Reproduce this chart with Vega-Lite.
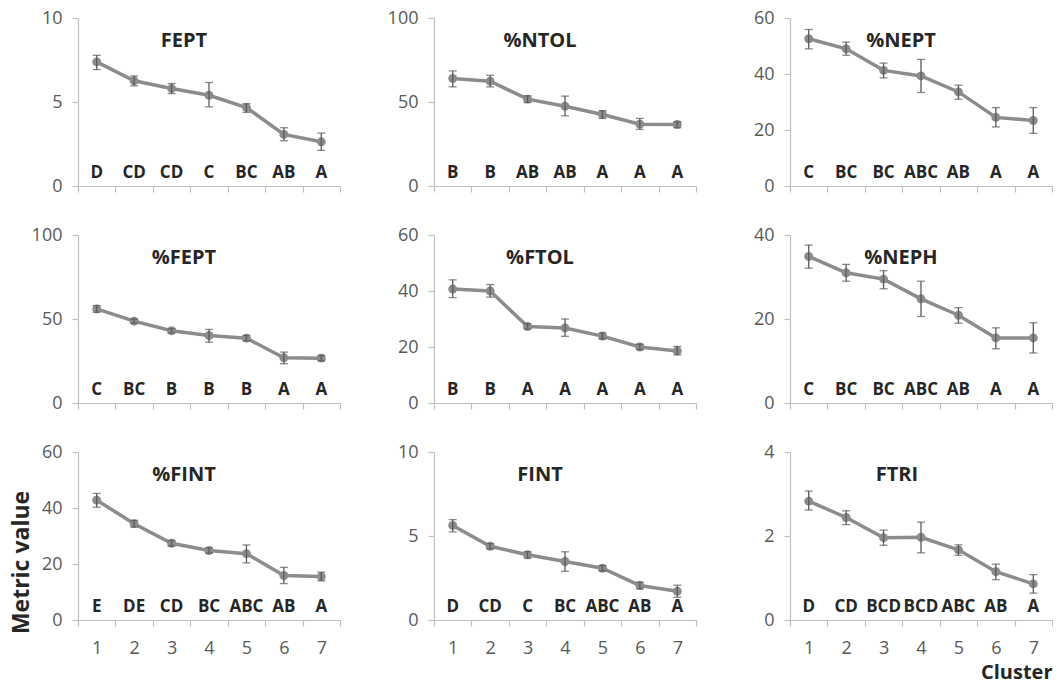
{
  "$schema": "https://vega.github.io/schema/vega-lite/v6.json",
  "background": "white",
  "padding": {"left": 10, "top": 9, "right": 0, "bottom": 0},
  "config": {
    "view": {"stroke": null},
    "font": "Open Sans",
    "axis": {"grid": false, "domainColor": "#bfbfbf", "tickColor": "#bfbfbf", "tickSize": 6, "labelColor": "#595959", "labelFontSize": 18, "labelFont": "Open Sans", "domainWidth": 1.2, "tickWidth": 1.2},
    "axisX": {"tickBand": "extent", "labelAngle": 0, "labelPadding": 13},
    "axisY": {"labelPadding": 10}
  },
  "datasets": {
    "d": [
      {"metric": "FEPT", "cluster": 1, "mean": 7.39, "lo": 6.93, "hi": 7.78, "letter": "D"},
      {"metric": "FEPT", "cluster": 2, "mean": 6.26, "lo": 5.96, "hi": 6.55, "letter": "CD"},
      {"metric": "FEPT", "cluster": 3, "mean": 5.8, "lo": 5.5, "hi": 6.1, "letter": "CD"},
      {"metric": "FEPT", "cluster": 4, "mean": 5.4, "lo": 4.71, "hi": 6.16, "letter": "C"},
      {"metric": "FEPT", "cluster": 5, "mean": 4.67, "lo": 4.38, "hi": 4.9, "letter": "BC"},
      {"metric": "FEPT", "cluster": 6, "mean": 3.07, "lo": 2.69, "hi": 3.47, "letter": "AB"},
      {"metric": "FEPT", "cluster": 7, "mean": 2.63, "lo": 2.12, "hi": 3.15, "letter": "A"},
      {"metric": "%NTOL", "cluster": 1, "mean": 64, "lo": 59, "hi": 68.5, "letter": "B"},
      {"metric": "%NTOL", "cluster": 2, "mean": 62.4, "lo": 59, "hi": 65.9, "letter": "B"},
      {"metric": "%NTOL", "cluster": 3, "mean": 51.7, "lo": 49.7, "hi": 53.7, "letter": "AB"},
      {"metric": "%NTOL", "cluster": 4, "mean": 47.5, "lo": 41.8, "hi": 53.5, "letter": "AB"},
      {"metric": "%NTOL", "cluster": 5, "mean": 42.6, "lo": 40.2, "hi": 44.8, "letter": "A"},
      {"metric": "%NTOL", "cluster": 6, "mean": 36.8, "lo": 33.7, "hi": 40.2, "letter": "A"},
      {"metric": "%NTOL", "cluster": 7, "mean": 36.6, "lo": 34.7, "hi": 38.2, "letter": "A"},
      {"metric": "%NEPT", "cluster": 1, "mean": 52.6, "lo": 49, "hi": 55.9, "letter": "C"},
      {"metric": "%NEPT", "cluster": 2, "mean": 49, "lo": 46.7, "hi": 51.4, "letter": "BC"},
      {"metric": "%NEPT", "cluster": 3, "mean": 41.3, "lo": 38.6, "hi": 43.9, "letter": "BC"},
      {"metric": "%NEPT", "cluster": 4, "mean": 39.3, "lo": 33.4, "hi": 45.2, "letter": "ABC"},
      {"metric": "%NEPT", "cluster": 5, "mean": 33.6, "lo": 31, "hi": 36, "letter": "AB"},
      {"metric": "%NEPT", "cluster": 6, "mean": 24.5, "lo": 21.1, "hi": 28, "letter": "A"},
      {"metric": "%NEPT", "cluster": 7, "mean": 23.4, "lo": 18.8, "hi": 28, "letter": "A"},
      {"metric": "%FEPT", "cluster": 1, "mean": 56, "lo": 54, "hi": 58, "letter": "C"},
      {"metric": "%FEPT", "cluster": 2, "mean": 48.7, "lo": 47.5, "hi": 50, "letter": "BC"},
      {"metric": "%FEPT", "cluster": 3, "mean": 43, "lo": 41.8, "hi": 44.2, "letter": "B"},
      {"metric": "%FEPT", "cluster": 4, "mean": 40.2, "lo": 36.2, "hi": 43.8, "letter": "B"},
      {"metric": "%FEPT", "cluster": 5, "mean": 38.6, "lo": 37, "hi": 40.2, "letter": "B"},
      {"metric": "%FEPT", "cluster": 6, "mean": 26.9, "lo": 23.4, "hi": 30.3, "letter": "A"},
      {"metric": "%FEPT", "cluster": 7, "mean": 26.7, "lo": 25.1, "hi": 28.3, "letter": "A"},
      {"metric": "%FTOL", "cluster": 1, "mean": 40.7, "lo": 37.6, "hi": 44, "letter": "B"},
      {"metric": "%FTOL", "cluster": 2, "mean": 40, "lo": 37.8, "hi": 42.3, "letter": "B"},
      {"metric": "%FTOL", "cluster": 3, "mean": 27.3, "lo": 26.4, "hi": 28.3, "letter": "A"},
      {"metric": "%FTOL", "cluster": 4, "mean": 26.8, "lo": 23.8, "hi": 30, "letter": "A"},
      {"metric": "%FTOL", "cluster": 5, "mean": 23.9, "lo": 22.9, "hi": 25, "letter": "A"},
      {"metric": "%FTOL", "cluster": 6, "mean": 20, "lo": 19.1, "hi": 21, "letter": "A"},
      {"metric": "%FTOL", "cluster": 7, "mean": 18.6, "lo": 17.2, "hi": 20.2, "letter": "A"},
      {"metric": "%NEPH", "cluster": 1, "mean": 34.9, "lo": 32.1, "hi": 37.6, "letter": "C"},
      {"metric": "%NEPH", "cluster": 2, "mean": 31, "lo": 29, "hi": 33, "letter": "BC"},
      {"metric": "%NEPH", "cluster": 3, "mean": 29.5, "lo": 27.2, "hi": 31.5, "letter": "BC"},
      {"metric": "%NEPH", "cluster": 4, "mean": 24.8, "lo": 20.6, "hi": 29, "letter": "ABC"},
      {"metric": "%NEPH", "cluster": 5, "mean": 20.9, "lo": 19, "hi": 22.7, "letter": "AB"},
      {"metric": "%NEPH", "cluster": 6, "mean": 15.5, "lo": 12.9, "hi": 17.9, "letter": "A"},
      {"metric": "%NEPH", "cluster": 7, "mean": 15.5, "lo": 11.9, "hi": 19.1, "letter": "A"},
      {"metric": "%FINT", "cluster": 1, "mean": 42.8, "lo": 40.3, "hi": 45.2, "letter": "E"},
      {"metric": "%FINT", "cluster": 2, "mean": 34.4, "lo": 33.2, "hi": 35.6, "letter": "DE"},
      {"metric": "%FINT", "cluster": 3, "mean": 27.4, "lo": 26.4, "hi": 28.4, "letter": "CD"},
      {"metric": "%FINT", "cluster": 4, "mean": 24.8, "lo": 23.9, "hi": 25.8, "letter": "BC"},
      {"metric": "%FINT", "cluster": 5, "mean": 23.7, "lo": 20.4, "hi": 26.8, "letter": "ABC"},
      {"metric": "%FINT", "cluster": 6, "mean": 15.9, "lo": 13, "hi": 18.8, "letter": "AB"},
      {"metric": "%FINT", "cluster": 7, "mean": 15.5, "lo": 14, "hi": 17.1, "letter": "A"},
      {"metric": "FINT", "cluster": 1, "mean": 5.63, "lo": 5.25, "hi": 5.98, "letter": "D"},
      {"metric": "FINT", "cluster": 2, "mean": 4.39, "lo": 4.23, "hi": 4.55, "letter": "CD"},
      {"metric": "FINT", "cluster": 3, "mean": 3.88, "lo": 3.68, "hi": 4.07, "letter": "C"},
      {"metric": "FINT", "cluster": 4, "mean": 3.48, "lo": 2.9, "hi": 4.06, "letter": "BC"},
      {"metric": "FINT", "cluster": 5, "mean": 3.08, "lo": 2.92, "hi": 3.24, "letter": "ABC"},
      {"metric": "FINT", "cluster": 6, "mean": 2.05, "lo": 1.85, "hi": 2.25, "letter": "AB"},
      {"metric": "FINT", "cluster": 7, "mean": 1.71, "lo": 1.35, "hi": 2.07, "letter": "A"},
      {"metric": "FTRI", "cluster": 1, "mean": 2.83, "lo": 2.62, "hi": 3.07, "letter": "D"},
      {"metric": "FTRI", "cluster": 2, "mean": 2.44, "lo": 2.27, "hi": 2.6, "letter": "CD"},
      {"metric": "FTRI", "cluster": 3, "mean": 1.96, "lo": 1.78, "hi": 2.14, "letter": "BCD"},
      {"metric": "FTRI", "cluster": 4, "mean": 1.97, "lo": 1.6, "hi": 2.33, "letter": "BCD"},
      {"metric": "FTRI", "cluster": 5, "mean": 1.67, "lo": 1.54, "hi": 1.79, "letter": "ABC"},
      {"metric": "FTRI", "cluster": 6, "mean": 1.15, "lo": 0.96, "hi": 1.33, "letter": "AB"},
      {"metric": "FTRI", "cluster": 7, "mean": 0.86, "lo": 0.64, "hi": 1.08, "letter": "A"}
    ]
  },
  "data": {"name": "d"},
  "columns": 3,
  "bounds": "flush",
  "align": "all",
  "spacing": {"row": 49, "column": 94},
  "concat": [
    {
      "width": 262, "height": 168,
      "title": {"text": "FEPT", "anchor": "middle", "frame": "group", "dx": -25, "offset": -52, "baseline": "middle", "fontSize": 20, "fontWeight": "bold", "color": "#262626", "font": "Open Sans"},
      "transform": [{"filter": "datum.metric === 'FEPT'"}],
      "encoding": {
        "x": {"field": "cluster", "type": "ordinal", "scale": {"paddingInner": 0, "paddingOuter": 0}, "axis": {"title": null, "labels": false}},
        "y": {"field": "mean", "type": "quantitative", "title": null, "scale": {"domain": [0, 10]}, "axis": {"title": null, "values": [0, 5, 10]}}
      },
      "layer": [
        {"mark": {"type": "line", "color": "#8c8c8c", "strokeWidth": 3.5}, "encoding": {}},
        {"mark": {"type": "circle", "size": 80, "color": "#8c8c8c", "opacity": 1}, "encoding": {}},
        {"mark": {"type": "rule", "color": "#595959", "strokeWidth": 1.3}, "encoding": {"y": {"field": "lo", "type": "quantitative", "title": null}, "y2": {"field": "hi"}}},
        {"mark": {"type": "tick", "color": "#595959", "thickness": 1.3, "size": 8}, "encoding": {"y": {"field": "lo", "type": "quantitative", "title": null}}},
        {"mark": {"type": "tick", "color": "#595959", "thickness": 1.3, "size": 8}, "encoding": {"y": {"field": "hi", "type": "quantitative", "title": null}}},
        {"mark": {"type": "text", "dy": -13, "fontSize": 17, "fontWeight": "bold", "color": "#262626", "font": "Open Sans"}, "encoding": {"y": {"datum": 0, "title": null}, "text": {"field": "letter"}}}
      ]
    },
    {
      "width": 262, "height": 168,
      "title": {"text": "%NTOL", "anchor": "middle", "frame": "group", "dx": -25, "offset": -52, "baseline": "middle", "fontSize": 20, "fontWeight": "bold", "color": "#262626", "font": "Open Sans"},
      "transform": [{"filter": "datum.metric === '%NTOL'"}],
      "encoding": {
        "x": {"field": "cluster", "type": "ordinal", "scale": {"paddingInner": 0, "paddingOuter": 0}, "axis": {"title": null, "labels": false}},
        "y": {"field": "mean", "type": "quantitative", "title": null, "scale": {"domain": [0, 100]}, "axis": {"title": null, "values": [0, 50, 100]}}
      },
      "layer": [
        {"mark": {"type": "line", "color": "#8c8c8c", "strokeWidth": 3.5}, "encoding": {}},
        {"mark": {"type": "circle", "size": 80, "color": "#8c8c8c", "opacity": 1}, "encoding": {}},
        {"mark": {"type": "rule", "color": "#595959", "strokeWidth": 1.3}, "encoding": {"y": {"field": "lo", "type": "quantitative", "title": null}, "y2": {"field": "hi"}}},
        {"mark": {"type": "tick", "color": "#595959", "thickness": 1.3, "size": 8}, "encoding": {"y": {"field": "lo", "type": "quantitative", "title": null}}},
        {"mark": {"type": "tick", "color": "#595959", "thickness": 1.3, "size": 8}, "encoding": {"y": {"field": "hi", "type": "quantitative", "title": null}}},
        {"mark": {"type": "text", "dy": -13, "fontSize": 17, "fontWeight": "bold", "color": "#262626", "font": "Open Sans"}, "encoding": {"y": {"datum": 0, "title": null}, "text": {"field": "letter"}}}
      ]
    },
    {
      "width": 262, "height": 168,
      "title": {"text": "%NEPT", "anchor": "middle", "frame": "group", "dx": -20, "offset": -52, "baseline": "middle", "fontSize": 20, "fontWeight": "bold", "color": "#262626", "font": "Open Sans"},
      "transform": [{"filter": "datum.metric === '%NEPT'"}],
      "encoding": {
        "x": {"field": "cluster", "type": "ordinal", "scale": {"paddingInner": 0, "paddingOuter": 0}, "axis": {"title": null, "labels": false}},
        "y": {"field": "mean", "type": "quantitative", "title": null, "scale": {"domain": [0, 60]}, "axis": {"title": null, "values": [0, 20, 40, 60]}}
      },
      "layer": [
        {"mark": {"type": "line", "color": "#8c8c8c", "strokeWidth": 3.5}, "encoding": {}},
        {"mark": {"type": "circle", "size": 80, "color": "#8c8c8c", "opacity": 1}, "encoding": {}},
        {"mark": {"type": "rule", "color": "#595959", "strokeWidth": 1.3}, "encoding": {"y": {"field": "lo", "type": "quantitative", "title": null}, "y2": {"field": "hi"}}},
        {"mark": {"type": "tick", "color": "#595959", "thickness": 1.3, "size": 8}, "encoding": {"y": {"field": "lo", "type": "quantitative", "title": null}}},
        {"mark": {"type": "tick", "color": "#595959", "thickness": 1.3, "size": 8}, "encoding": {"y": {"field": "hi", "type": "quantitative", "title": null}}},
        {"mark": {"type": "text", "dy": -13, "fontSize": 17, "fontWeight": "bold", "color": "#262626", "font": "Open Sans"}, "encoding": {"y": {"datum": 0, "title": null}, "text": {"field": "letter"}}}
      ]
    },
    {
      "width": 262, "height": 168,
      "title": {"text": "%FEPT", "anchor": "middle", "frame": "group", "dx": -25, "offset": -52, "baseline": "middle", "fontSize": 20, "fontWeight": "bold", "color": "#262626", "font": "Open Sans"},
      "transform": [{"filter": "datum.metric === '%FEPT'"}],
      "encoding": {
        "x": {"field": "cluster", "type": "ordinal", "scale": {"paddingInner": 0, "paddingOuter": 0}, "axis": {"title": null, "labels": false}},
        "y": {"field": "mean", "type": "quantitative", "title": null, "scale": {"domain": [0, 100]}, "axis": {"title": null, "values": [0, 50, 100]}}
      },
      "layer": [
        {"mark": {"type": "line", "color": "#8c8c8c", "strokeWidth": 3.5}, "encoding": {}},
        {"mark": {"type": "circle", "size": 80, "color": "#8c8c8c", "opacity": 1}, "encoding": {}},
        {"mark": {"type": "rule", "color": "#595959", "strokeWidth": 1.3}, "encoding": {"y": {"field": "lo", "type": "quantitative", "title": null}, "y2": {"field": "hi"}}},
        {"mark": {"type": "tick", "color": "#595959", "thickness": 1.3, "size": 8}, "encoding": {"y": {"field": "lo", "type": "quantitative", "title": null}}},
        {"mark": {"type": "tick", "color": "#595959", "thickness": 1.3, "size": 8}, "encoding": {"y": {"field": "hi", "type": "quantitative", "title": null}}},
        {"mark": {"type": "text", "dy": -13, "fontSize": 17, "fontWeight": "bold", "color": "#262626", "font": "Open Sans"}, "encoding": {"y": {"datum": 0, "title": null}, "text": {"field": "letter"}}}
      ]
    },
    {
      "width": 262, "height": 168,
      "title": {"text": "%FTOL", "anchor": "middle", "frame": "group", "dx": -25, "offset": -52, "baseline": "middle", "fontSize": 20, "fontWeight": "bold", "color": "#262626", "font": "Open Sans"},
      "transform": [{"filter": "datum.metric === '%FTOL'"}],
      "encoding": {
        "x": {"field": "cluster", "type": "ordinal", "scale": {"paddingInner": 0, "paddingOuter": 0}, "axis": {"title": null, "labels": false}},
        "y": {"field": "mean", "type": "quantitative", "title": null, "scale": {"domain": [0, 60]}, "axis": {"title": null, "values": [0, 20, 40, 60]}}
      },
      "layer": [
        {"mark": {"type": "line", "color": "#8c8c8c", "strokeWidth": 3.5}, "encoding": {}},
        {"mark": {"type": "circle", "size": 80, "color": "#8c8c8c", "opacity": 1}, "encoding": {}},
        {"mark": {"type": "rule", "color": "#595959", "strokeWidth": 1.3}, "encoding": {"y": {"field": "lo", "type": "quantitative", "title": null}, "y2": {"field": "hi"}}},
        {"mark": {"type": "tick", "color": "#595959", "thickness": 1.3, "size": 8}, "encoding": {"y": {"field": "lo", "type": "quantitative", "title": null}}},
        {"mark": {"type": "tick", "color": "#595959", "thickness": 1.3, "size": 8}, "encoding": {"y": {"field": "hi", "type": "quantitative", "title": null}}},
        {"mark": {"type": "text", "dy": -13, "fontSize": 17, "fontWeight": "bold", "color": "#262626", "font": "Open Sans"}, "encoding": {"y": {"datum": 0, "title": null}, "text": {"field": "letter"}}}
      ]
    },
    {
      "width": 262, "height": 168,
      "title": {"text": "%NEPH", "anchor": "middle", "frame": "group", "dx": -20, "offset": -52, "baseline": "middle", "fontSize": 20, "fontWeight": "bold", "color": "#262626", "font": "Open Sans"},
      "transform": [{"filter": "datum.metric === '%NEPH'"}],
      "encoding": {
        "x": {"field": "cluster", "type": "ordinal", "scale": {"paddingInner": 0, "paddingOuter": 0}, "axis": {"title": null, "labels": false}},
        "y": {"field": "mean", "type": "quantitative", "title": null, "scale": {"domain": [0, 40]}, "axis": {"title": null, "values": [0, 20, 40]}}
      },
      "layer": [
        {"mark": {"type": "line", "color": "#8c8c8c", "strokeWidth": 3.5}, "encoding": {}},
        {"mark": {"type": "circle", "size": 80, "color": "#8c8c8c", "opacity": 1}, "encoding": {}},
        {"mark": {"type": "rule", "color": "#595959", "strokeWidth": 1.3}, "encoding": {"y": {"field": "lo", "type": "quantitative", "title": null}, "y2": {"field": "hi"}}},
        {"mark": {"type": "tick", "color": "#595959", "thickness": 1.3, "size": 8}, "encoding": {"y": {"field": "lo", "type": "quantitative", "title": null}}},
        {"mark": {"type": "tick", "color": "#595959", "thickness": 1.3, "size": 8}, "encoding": {"y": {"field": "hi", "type": "quantitative", "title": null}}},
        {"mark": {"type": "text", "dy": -13, "fontSize": 17, "fontWeight": "bold", "color": "#262626", "font": "Open Sans"}, "encoding": {"y": {"datum": 0, "title": null}, "text": {"field": "letter"}}}
      ]
    },
    {
      "width": 262, "height": 168,
      "title": {"text": "%FINT", "anchor": "middle", "frame": "group", "dx": -25, "offset": -52, "baseline": "middle", "fontSize": 20, "fontWeight": "bold", "color": "#262626", "font": "Open Sans"},
      "transform": [{"filter": "datum.metric === '%FINT'"}],
      "encoding": {
        "x": {"field": "cluster", "type": "ordinal", "scale": {"paddingInner": 0, "paddingOuter": 0}, "axis": {"title": null}},
        "y": {"field": "mean", "type": "quantitative", "title": "Metric value", "scale": {"domain": [0, 60]}, "axis": {"title": "Metric value", "values": [0, 20, 40, 60], "titleFontSize": 23, "titleFontWeight": "bold", "titleColor": "#262626", "titleFont": "Open Sans", "titlePadding": 8, "titleY": 110}}
      },
      "layer": [
        {"mark": {"type": "line", "color": "#8c8c8c", "strokeWidth": 3.5}, "encoding": {}},
        {"mark": {"type": "circle", "size": 80, "color": "#8c8c8c", "opacity": 1}, "encoding": {}},
        {"mark": {"type": "rule", "color": "#595959", "strokeWidth": 1.3}, "encoding": {"y": {"field": "lo", "type": "quantitative", "title": "Metric value"}, "y2": {"field": "hi"}}},
        {"mark": {"type": "tick", "color": "#595959", "thickness": 1.3, "size": 8}, "encoding": {"y": {"field": "lo", "type": "quantitative", "title": "Metric value"}}},
        {"mark": {"type": "tick", "color": "#595959", "thickness": 1.3, "size": 8}, "encoding": {"y": {"field": "hi", "type": "quantitative", "title": "Metric value"}}},
        {"mark": {"type": "text", "dy": -13, "fontSize": 17, "fontWeight": "bold", "color": "#262626", "font": "Open Sans"}, "encoding": {"y": {"datum": 0, "title": "Metric value"}, "text": {"field": "letter"}}}
      ]
    },
    {
      "width": 262, "height": 168,
      "title": {"text": "FINT", "anchor": "middle", "frame": "group", "dx": -25, "offset": -52, "baseline": "middle", "fontSize": 20, "fontWeight": "bold", "color": "#262626", "font": "Open Sans"},
      "transform": [{"filter": "datum.metric === 'FINT'"}],
      "encoding": {
        "x": {"field": "cluster", "type": "ordinal", "scale": {"paddingInner": 0, "paddingOuter": 0}, "axis": {"title": null}},
        "y": {"field": "mean", "type": "quantitative", "title": null, "scale": {"domain": [0, 10]}, "axis": {"title": null, "values": [0, 5, 10]}}
      },
      "layer": [
        {"mark": {"type": "line", "color": "#8c8c8c", "strokeWidth": 3.5}, "encoding": {}},
        {"mark": {"type": "circle", "size": 80, "color": "#8c8c8c", "opacity": 1}, "encoding": {}},
        {"mark": {"type": "rule", "color": "#595959", "strokeWidth": 1.3}, "encoding": {"y": {"field": "lo", "type": "quantitative", "title": null}, "y2": {"field": "hi"}}},
        {"mark": {"type": "tick", "color": "#595959", "thickness": 1.3, "size": 8}, "encoding": {"y": {"field": "lo", "type": "quantitative", "title": null}}},
        {"mark": {"type": "tick", "color": "#595959", "thickness": 1.3, "size": 8}, "encoding": {"y": {"field": "hi", "type": "quantitative", "title": null}}},
        {"mark": {"type": "text", "dy": -13, "fontSize": 17, "fontWeight": "bold", "color": "#262626", "font": "Open Sans"}, "encoding": {"y": {"datum": 0, "title": null}, "text": {"field": "letter"}}}
      ]
    },
    {
      "width": 262, "height": 168,
      "title": {"text": "FTRI", "anchor": "middle", "frame": "group", "dx": -24, "offset": -52, "baseline": "middle", "fontSize": 20, "fontWeight": "bold", "color": "#262626", "font": "Open Sans"},
      "transform": [{"filter": "datum.metric === 'FTRI'"}],
      "encoding": {
        "x": {"field": "cluster", "type": "ordinal", "title": "Cluster", "scale": {"paddingInner": 0, "paddingOuter": 0}, "axis": {"title": "Cluster", "titleAnchor": "end", "titleFontSize": 20, "titleFontWeight": "bold", "titleColor": "#262626", "titleFont": "Open Sans", "titlePadding": 5}},
        "y": {"field": "mean", "type": "quantitative", "title": null, "scale": {"domain": [0, 4]}, "axis": {"title": null, "values": [0, 2, 4]}}
      },
      "layer": [
        {"mark": {"type": "line", "color": "#8c8c8c", "strokeWidth": 3.5}, "encoding": {}},
        {"mark": {"type": "circle", "size": 80, "color": "#8c8c8c", "opacity": 1}, "encoding": {}},
        {"mark": {"type": "rule", "color": "#595959", "strokeWidth": 1.3}, "encoding": {"y": {"field": "lo", "type": "quantitative", "title": null}, "y2": {"field": "hi"}}},
        {"mark": {"type": "tick", "color": "#595959", "thickness": 1.3, "size": 8}, "encoding": {"y": {"field": "lo", "type": "quantitative", "title": null}}},
        {"mark": {"type": "tick", "color": "#595959", "thickness": 1.3, "size": 8}, "encoding": {"y": {"field": "hi", "type": "quantitative", "title": null}}},
        {"mark": {"type": "text", "dy": -13, "fontSize": 17, "fontWeight": "bold", "color": "#262626", "font": "Open Sans"}, "encoding": {"y": {"datum": 0, "title": null}, "text": {"field": "letter"}}}
      ]
    }
  ]
}
